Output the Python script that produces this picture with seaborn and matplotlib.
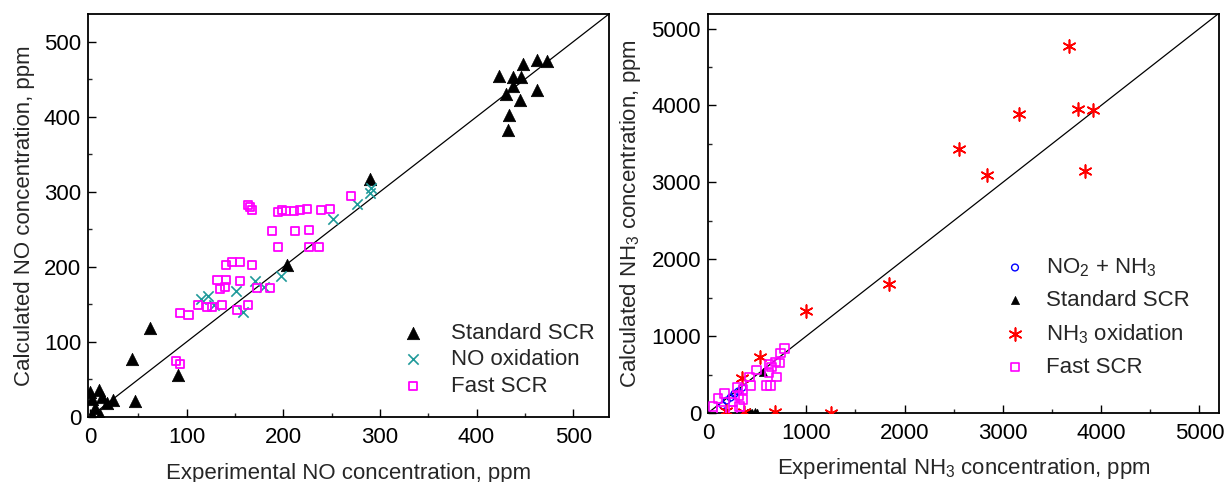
import numpy as np
import pandas as pd
import seaborn as sns
import matplotlib
matplotlib.use("Agg")
import matplotlib.pyplot as plt
from matplotlib.ticker import MultipleLocator

# ---- left panel: NO ----
std_no_x = [423, 430, 438, 446, 438, 448, 463, 473, 463, 445, 434, 433,
            290, 204, 91, 62, 44, 47, 0, 2, 9, 12, 18, 24, 2, 10, 5]
std_no_y = [455, 431, 453, 453, 441, 470, 476, 474, 436, 423, 402, 382,
            317, 202, 56, 118, 77, 21, 33, 24, 36, 27, 19, 22, 3, 2, 12]

noox_x = [115, 122, 128, 151, 158, 171, 180, 198, 252, 276, 290, 291]
noox_y = [157, 161, 149, 168, 140, 181, 173, 188, 264, 284, 298, 305]

fast_no_x = [164, 166, 168, 195, 199, 203, 211, 217, 225, 239, 248, 188, 212,
             227, 195, 227, 237, 270, 141, 147, 155, 168, 132, 141, 155, 135,
             140, 173, 186, 112, 121, 126, 137, 152, 164, 93, 102, 89, 93]
fast_no_y = [282, 280, 276, 273, 276, 275, 275, 276, 277, 276, 277, 248, 248,
             249, 227, 227, 227, 294, 202, 207, 207, 202, 182, 183, 181, 170,
             173, 172, 172, 149, 147, 147, 149, 143, 149, 138, 136, 75, 70]

# ---- right panel: NH3 ----
no2_x = [150, 190, 230, 270, 310, 350]
no2_y = [100, 160, 200, 250, 280, 330]

std_nh3_x = [190, 400, 425, 450, 475, 500, 560]
std_nh3_y = [0, 0, 8, 0, 8, 0, 530]

nh3ox_x = [3678, 3169, 3769, 3915, 2553, 2837, 3837, 1847, 1000, 532, 345,
           685, 1254, 180, 366]
nh3ox_y = [4774, 3883, 3948, 3935, 3435, 3091, 3143, 1674, 1326, 730, 450,
           10, 0, 30, 15]

fast_nh3_x = [780, 739, 688, 729, 620, 644, 695, 620, 593, 637, 491, 424,
              434, 356, 298, 315, 356, 170, 102, 254, 51, 322, 254, 136]
fast_nh3_y = [839, 783, 665, 652, 635, 600, 470, 522, 361, 361, 557, 470,
              361, 304, 330, 230, 174, 252, 187, 143, 87, 87, 35, 35]

sns.set_style("ticks")
plt.rcParams['font.family'] = ['Liberation Sans', 'DejaVu Sans']
plt.rcParams['mathtext.fontset'] = 'custom'
plt.rcParams['mathtext.rm'] = 'Liberation Sans'
plt.rcParams['mathtext.it'] = 'Liberation Sans:italic'
plt.rcParams['mathtext.bf'] = 'Liberation Sans:bold'
FS = 16

fig = plt.figure(figsize=(12.27, 4.82), dpi=100)
ax1 = fig.add_axes([0.0717, 0.1349, 0.4246, 0.8361])
ax2 = fig.add_axes([0.5770, 0.1432, 0.4165, 0.8278])

star = (6, 2, 0)

# left
sns.scatterplot(x=std_no_x, y=std_no_y, ax=ax1, marker='^', s=80, color='black',
                edgecolor='black', linewidth=0.5, label='Standard SCR', legend=False, zorder=3)
sns.scatterplot(x=noox_x, y=noox_y, ax=ax1, marker='x', s=55, color='#1f9a9a',
                linewidth=1.2, label='NO oxidation', legend=False, zorder=3)
sns.scatterplot(x=fast_no_x, y=fast_no_y, ax=ax1, marker='s', s=34, facecolor='none',
                edgecolor='#ff00ff', linewidth=1.3, label='Fast SCR', legend=False, zorder=3)
ax1.axline((0, 0), slope=1, color='black', lw=0.9, zorder=2)
ax1.set_xlim(-2, 537)
ax1.set_ylim(0, 537)
ax1.xaxis.set_major_locator(MultipleLocator(100))
ax1.xaxis.set_minor_locator(MultipleLocator(50))
ax1.yaxis.set_major_locator(MultipleLocator(100))
ax1.yaxis.set_minor_locator(MultipleLocator(50))
ax1.set_xlabel('Experimental NO concentration, ppm', fontsize=FS, labelpad=11)
ax1.set_ylabel('Calculated NO concentration, ppm', fontsize=FS, labelpad=6)
ax1.legend(loc='lower left', bbox_to_anchor=(0.602, 0.05), frameon=False, fontsize=FS,
           handlelength=1.0, handletextpad=1.24, labelspacing=0.25,
           borderpad=0, borderaxespad=0)

# right
sns.scatterplot(x=no2_x, y=no2_y, ax=ax2, marker='o', s=24, facecolor='none',
                edgecolor='#0000ff', linewidth=1.0, label='NO$_2$ + NH$_3$', legend=False, zorder=3)
sns.scatterplot(x=std_nh3_x, y=std_nh3_y, ax=ax2, marker='^', s=34, color='black',
                edgecolor='black', linewidth=0.5, label='Standard SCR', legend=False, zorder=3)
sns.scatterplot(x=nh3ox_x, y=nh3ox_y, ax=ax2, marker=star, s=85, color='#ff0000',
                linewidth=1.2, label='NH$_3$ oxidation', legend=False, zorder=3)
sns.scatterplot(x=fast_nh3_x, y=fast_nh3_y, ax=ax2, marker='s', s=38, facecolor='none',
                edgecolor='#ff00ff', linewidth=1.2, label='Fast SCR', legend=False, zorder=3)
ax2.axline((0, 0), slope=1, color='black', lw=0.9, zorder=2)
ax2.set_xlim(0, 5200)
ax2.set_ylim(0, 5190)
ax2.xaxis.set_major_locator(MultipleLocator(1000))
ax2.xaxis.set_minor_locator(MultipleLocator(500))
ax2.yaxis.set_major_locator(MultipleLocator(1000))
ax2.yaxis.set_minor_locator(MultipleLocator(500))
ax2.set_xlabel('Experimental NH$_3$ concentration, ppm', fontsize=FS, labelpad=9)
ax2.set_ylabel('Calculated NH$_3$ concentration, ppm', fontsize=FS, labelpad=6)
ax2.legend(loc='lower left', bbox_to_anchor=(0.579, 0.088), frameon=False, fontsize=FS,
           handlelength=1.0, handletextpad=0.9, labelspacing=0.5,
           borderpad=0, borderaxespad=0)

for ax in (ax1, ax2):
    for sp in ax.spines.values():
        sp.set_visible(True)
        sp.set_linewidth(1.3)
        sp.set_color('black')
    ax.tick_params(which='major', direction='in', length=6, width=1.0,
                   labelsize=FS, pad=5, top=False, right=False, colors='black')
    ax.tick_params(axis='x', which='major', pad=7)
    ax.tick_params(which='minor', direction='in', length=3, width=1.0,
                   top=False, right=False)
    ax.set_facecolor('white')

fig.savefig('out.png', dpi=100, facecolor='white')
